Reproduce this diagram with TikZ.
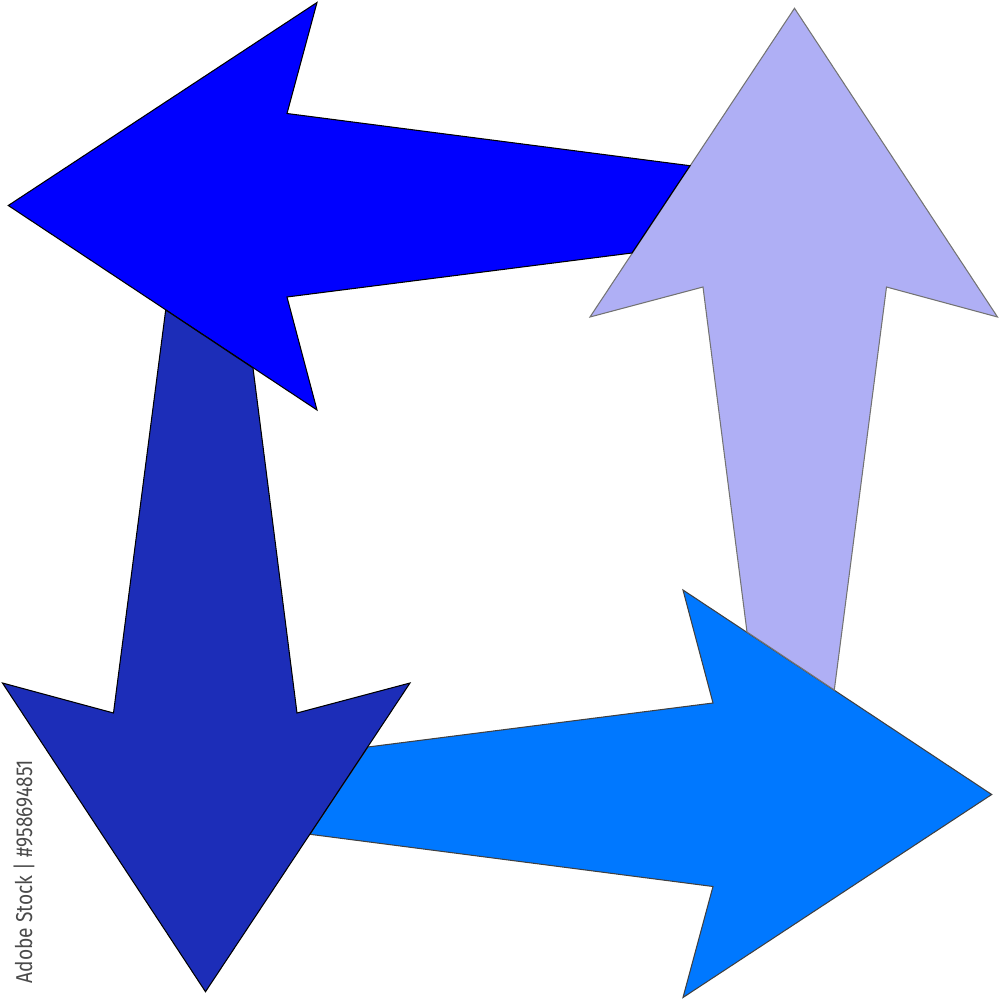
\documentclass[tikz,border=0pt]{standalone}
\usepackage{fontspec}
\newfontfamily\wmfont{Fira Sans}
\definecolor{cBlue}{HTML}{0000FF}
\definecolor{cLilac}{HTML}{AFAFF5}
\definecolor{cSky}{HTML}{0078FF}
\definecolor{cNavy}{HTML}{1C2DB8}
\definecolor{cMark}{HTML}{4A4A4A}
\begin{document}
\begin{tikzpicture}[x=0.01cm,y=0.01cm,
  arrowshape/.style={draw=black!75,line width=0.3pt,line join=miter}]
\useasboundingbox (-500,-500) rectangle (500,500);
\def\arrowpath{(491.7,-294.5) -- (183,-90) -- (213,-203) -- (-132,-247) -- (-190,-334.3) -- (213,-386.5) -- (183,-497.5) -- cycle}
% light blue (right)
\draw[arrowshape,fill=cSky] \arrowpath;
% lilac (up)
\draw[arrowshape,fill=cLilac,draw=black!55,rotate=90] \arrowpath;
% blue (left)
\draw[arrowshape,fill=cBlue,draw=black,rotate=180] \arrowpath;
% navy (down)
\draw[arrowshape,fill=cNavy,draw=black,rotate=270] \arrowpath;
% stock id
\node[rotate=90,inner sep=0pt,text=cMark] (mark) at (-476,-371.5)
  {\scalebox{1}[1.2]{\resizebox{2.23cm}{!}{\wmfont Adobe Stock | \#958694851}}};
\end{tikzpicture}
\end{document}
